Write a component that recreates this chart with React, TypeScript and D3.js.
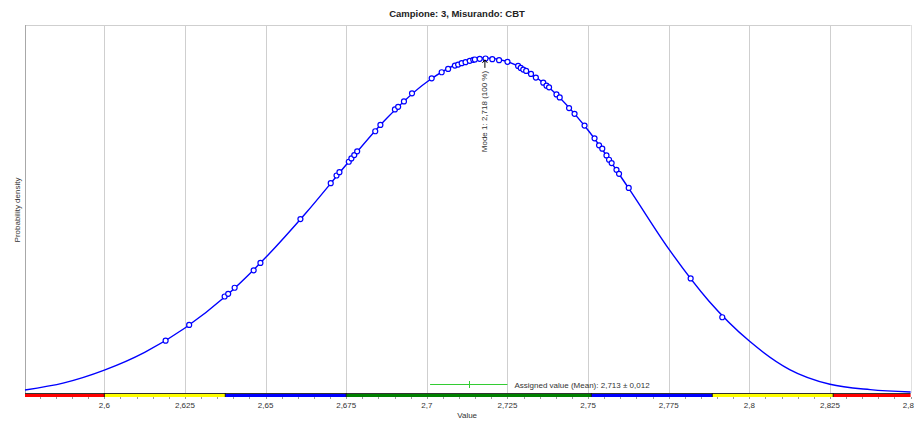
import React from "react";
import * as d3 from "d3";

// Chart texts
const title = "Campione: 3, Misurando: CBT";
const xTitle = "Value";
const yTitle = "Probability density";
const modeLabel = "Mode 1: 2,718  (100 %)";
const assignedLabel = "Assigned value (Mean): 2,713 ± 0,012";

// Kernel density curve, relative density (% of the mode)
const densityX = [
  2.5754, 2.5875, 2.6, 2.6125, 2.625, 2.6375, 2.65, 2.6625, 2.675, 2.6875, 2.7, 2.7125,
  2.718, 2.725, 2.7375, 2.75, 2.7625, 2.775, 2.7875, 2.8, 2.8125, 2.825, 2.8375, 2.85,
];
const densityY = [
  0.9, 3.0, 6.8, 12.1, 19.4, 28.8, 40.4, 53.7, 68.1, 81.9, 92.8, 99.2,
  100, 98.9, 91.45, 78.4, 61.2, 43.0, 27.4, 15.5, 7.0, 2.6, 1.0, 0.3,
];

// Reported results and their relative density on the curve
const results = [
  2.619, 2.6263, 2.6373, 2.6384, 2.6404, 2.6463, 2.6484, 2.6608, 2.6702, 2.672,
  2.6729, 2.6758, 2.6766, 2.6775, 2.6784, 2.684, 2.6856, 2.6901, 2.6911, 2.6929,
  2.6954, 2.7015, 2.7046, 2.7066, 2.7087, 2.7097, 2.7108, 2.712, 2.7133, 2.7144,
  2.7149, 2.7164, 2.7182, 2.7203, 2.7224, 2.725, 2.7283, 2.7291, 2.7299, 2.7308,
  2.7323, 2.7338, 2.7361, 2.7371, 2.7379, 2.7402, 2.7412, 2.7441, 2.7458, 2.7489,
  2.752, 2.7534, 2.7544, 2.7557, 2.7565, 2.7573, 2.7588, 2.7596, 2.7626, 2.7818,
  2.7916,
];
const resultDensity = [
  15.6, 20.3, 28.8, 29.6, 31.4, 36.6, 38.8, 51.9, 62.6, 64.9,
  65.9, 69.0, 70.0, 71.0, 72.1, 78.1, 80.0, 84.6, 85.4, 87.0,
  89.4, 93.9, 95.7, 96.7, 97.7, 98.0, 98.4, 98.7, 99.1, 99.4,
  99.5, 99.7, 99.8, 99.6, 99.3, 98.8, 97.6, 97.0, 96.5, 96.1,
  95.2, 94.1, 92.6, 91.7, 91.2, 89.1, 88.2, 85.0, 83.3, 79.8,
  76.0, 73.9, 72.9, 70.9, 69.6, 68.6, 66.6, 65.4, 61.2, 34.2,
  22.6,
];

const modeValue = 2.718;
const modeDensity = 100;

// Assigned value and its uncertainty
const assignedMean = 2.713;
const assignedU = 0.012;

// Axis
const xDomain = [2.5754, 2.85];
const yDomain = [0, 109.8];
const xTicks = [2.6, 2.625, 2.65, 2.675, 2.7, 2.725, 2.75, 2.775, 2.8, 2.825, 2.85];
const xTickLabels = ["2,6", "2,625", "2,65", "2,675", "2,7", "2,725", "2,75", "2,775", "2,8", "2,825", "2,85"];

// Evaluation zones along the axis
const zoneEdges = [2.5754, 2.6, 2.6375, 2.675, 2.751, 2.7885, 2.826, 2.85];
const zoneColors = ["#ff0000", "#ffff00", "#0000ff", "#008000", "#0000ff", "#ffff00", "#ff0000"];

const W = 914;
const H = 421;
const left = 25;
const right = 910.6;
const top = 25;
const bottom = 393;
const FONT = "'Liberation Sans', Arial, sans-serif";

export default function App() {
  const x = d3.scaleLinear().domain(xDomain).range([left, right]);
  const y = d3.scaleLinear().domain(yDomain).range([bottom, top]);
  const line = d3
    .line<number>()
    .x((_, i) => x(densityX[i]))
    .y((d) => y(d))
    .curve(d3.curveMonotoneX);

  const minorTicks = d3.range(0, 56).map((i) => 2.575 + i * 0.005).filter((v) => v >= xDomain[0] && v <= xDomain[1]);
  const mx = x(modeValue);
  const my = y(modeDensity);

  return (
    <svg
      width={W}
      height={H}
      style={{ position: "absolute", left: 0, top: 0, background: "#fff" }}
      fontFamily={FONT}
    >
      <rect x={0} y={0} width={W} height={H} fill="#fff" />
      <text x={457} y={17} textAnchor="middle" fontSize={9.5} fontWeight="bold" fill="#222">
        {title}
      </text>

      {/* grid */}
      {xTicks.slice(0, -1).map((t) => (
        <line key={t} x1={Math.round(x(t)) + 0.5} x2={Math.round(x(t)) + 0.5} y1={top} y2={bottom} stroke="#cfcfcf" />
      ))}
      <line x1={left} x2={right} y1={top + 0.5} y2={top + 0.5} stroke="#cfcfcf" />
      <line x1={Math.round(right) + 0.5} x2={Math.round(right) + 0.5} y1={top} y2={bottom} stroke="#e0e0e0" />
      <line x1={left + 0.5} x2={left + 0.5} y1={top} y2={bottom} stroke="#a8a8a8" />

      {/* y title */}
      <text transform={`translate(20,210) rotate(-90)`} textAnchor="middle" fontSize={8} fill="#333">
        {yTitle}
      </text>

      {/* assigned value */}
      <line x1={x(assignedMean - assignedU)} x2={x(assignedMean + assignedU)} y1={384.5} y2={384.5} stroke="#33cc33" />
      <line x1={Math.round(x(assignedMean)) + 0.5} x2={Math.round(x(assignedMean)) + 0.5} y1={381} y2={388} stroke="#33cc33" />
      <text x={x(assignedMean + assignedU) + 7} y={387.5} fontSize={8} fill="#333">
        {assignedLabel}
      </text>

      {/* density curve */}
      <path d={line(densityY) as string} fill="none" stroke="#0000ff" strokeWidth={1.4} />

      {/* results on the curve */}
      {results.map((r, i) => (
        <circle key={i} cx={x(r)} cy={y(resultDensity[i])} r={2.5} fill="#fff" stroke="#0000ff" strokeWidth={1.2} />
      ))}

      {/* mode marker */}
      <line x1={mx} x2={mx} y1={my + 2} y2={my + 10} stroke="#000" strokeWidth={1} />
      <path d={`M${mx - 2.5},${my + 5} L${mx},${my + 2} L${mx + 2.5},${my + 5}`} fill="none" stroke="#000" />
      <text
        transform={`translate(${mx},${my + 13}) rotate(-90)`}
        textAnchor="end"
        dominantBaseline="central"
        fontSize={8}
        fill="#333"
      >
        {modeLabel}
      </text>

      {/* x axis zones */}
      {zoneColors.map((c, i) => (
        <rect key={i} x={x(zoneEdges[i])} y={394} width={x(zoneEdges[i + 1]) - x(zoneEdges[i])} height={3} fill={c} />
      ))}
      <line x1={left} x2={right} y1={393.5} y2={393.5} stroke="#333" />
      {zoneEdges.slice(1, -1).map((e) => (
        <line key={e} x1={x(e)} x2={x(e)} y1={393} y2={397} stroke="#111" />
      ))}
      {minorTicks.map((t, i) => (
        <line key={i} x1={Math.round(x(t)) + 0.5} x2={Math.round(x(t)) + 0.5} y1={397} y2={399} stroke="#999" />
      ))}
      {xTicks.map((t, i) => (
        <text key={t} x={x(t)} y={408} textAnchor="middle" fontSize={8} fill="#333">
          {xTickLabels[i]}
        </text>
      ))}
      <text x={x(2.7125)} y={418} textAnchor="middle" fontSize={8} fill="#333">
        {xTitle}
      </text>
    </svg>
  );
}
